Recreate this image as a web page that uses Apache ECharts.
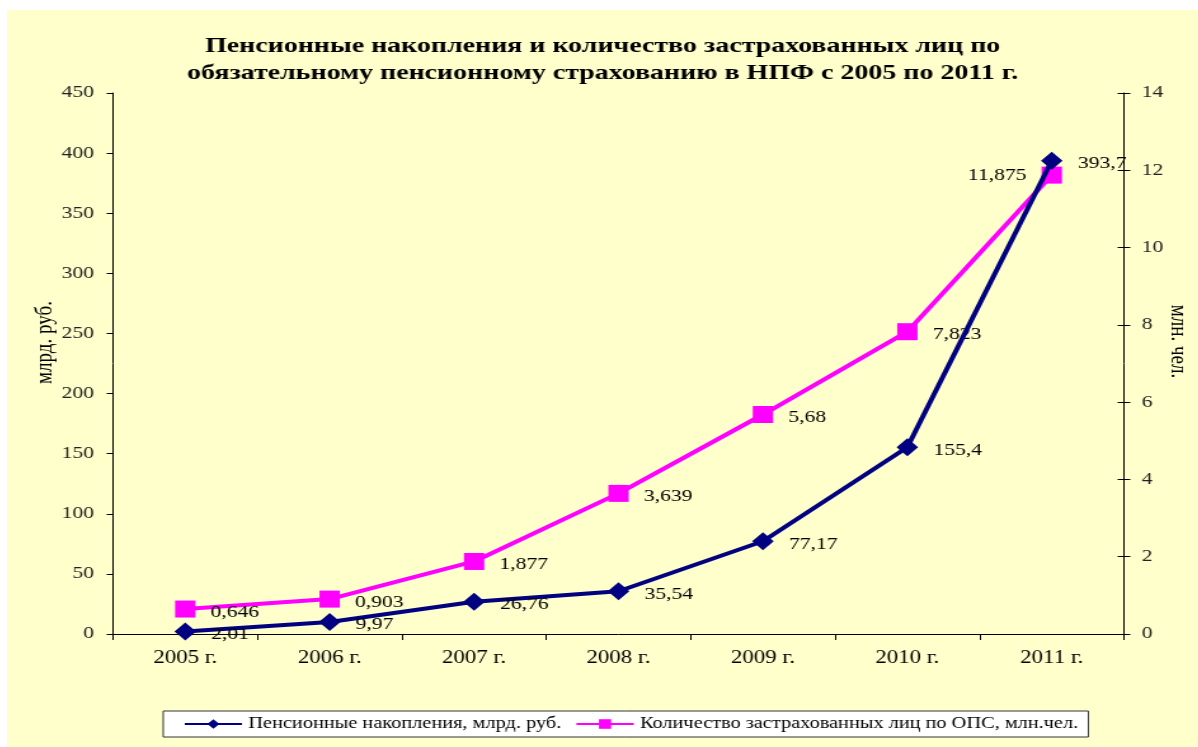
<!DOCTYPE html>
<html>
<head>
<meta charset="utf-8">
<script src="https://cdn.jsdelivr.net/npm/echarts@6/dist/echarts.min.js"></script>
<style>
  html, body { margin: 0; padding: 0; background: #fff; overflow: hidden; }
  #frame { position: absolute; left: 7px; top: 10px; width: 1191px; height: 737px; background: #FFFFCC; overflow: hidden; }
  /* the original picture is stretched sideways, so the chart is drawn narrower and widened */
  #chart { position: absolute; left: 0; top: 0; width: 938px; height: 737px; transform-origin: 0 0; transform: scaleX(1.27); }
</style>
</head>
<body>
<div id="frame"><div id="chart"></div></div>
<script>
const years = ['2005 г.', '2006 г.', '2007 г.', '2008 г.', '2009 г.', '2010 г.', '2011 г.']
const savings = [2.01, 9.97, 26.76, 35.54, 77.17, 155.4, 393.7]
const insured = [0.646, 0.903, 1.877, 3.639, 5.68, 7.823, 11.875]
const leftTicks = [0, 450, 50]
const rightTicks = [0, 14, 2]

const serif = '"Liberation Serif", "Times New Roman", serif'
const fmt = p => String(p.value).replace('.', ',')

const dataLabel = {
  show: true,
  position: 'right',
  distance: 12,
  offset: [0, 3],
  formatter: fmt,
  fontFamily: serif,
  fontSize: 17,
  color: '#000'
}

const chart = echarts.init(document.getElementById('chart'))
chart.setOption({
  backgroundColor: '#FFFFCC',
  animation: false,
  title: {
    text: 'Пенсионные накопления и количество застрахованных лиц по\nобязательному пенсионному страхованию в НПФ с 2005 по 2011 г.',
    left: 'center',
    top: 18,
    textStyle: {
      fontFamily: serif,
      fontSize: 22,
      fontWeight: 'bold',
      color: '#000',
      lineHeight: 27
    }
  },
  grid: {
    left: 83.5,
    right: 58.5,
    top: 83,
    bottom: 113,
    outerBoundsMode: 'none'
  },
  legend: {
    left: 123,
    top: 701,
    itemGap: 11,
    itemWidth: 45,
    itemHeight: 12,
    padding: [5, 8, 5, 16],
    backgroundColor: '#fff',
    borderColor: '#333',
    borderWidth: 1,
    textStyle: { fontFamily: serif, fontSize: 16, color: '#000' }
  },
  xAxis: {
    type: 'category',
    data: years,
    axisLine: { lineStyle: { color: '#000', width: 1 } },
    axisTick: { show: true, length: 6, lineStyle: { color: '#000' } },
    axisLabel: { fontFamily: serif, fontSize: 18, color: '#000', margin: 15 }
  },
  yAxis: [
    {
      type: 'value',
      min: leftTicks[0],
      max: leftTicks[1],
      interval: leftTicks[2],
      name: 'млрд. руб.',
      nameLocation: 'middle',
      nameRotate: 90,
      nameGap: 44,
      nameMoveOverlap: false,
      nameTextStyle: { fontFamily: serif, fontSize: 19, color: '#000', padding: [0, 0, 0, 42] },
      axisLine: { show: true, lineStyle: { color: '#000' } },
      axisTick: { show: true, length: 5, lineStyle: { color: '#000' } },
      splitLine: { show: false },
      axisLabel: { fontFamily: serif, fontSize: 17, color: '#222', margin: 15 }
    },
    {
      type: 'value',
      position: 'right',
      min: rightTicks[0],
      max: rightTicks[1],
      interval: rightTicks[2],
      name: 'млн. чел.',
      nameLocation: 'middle',
      nameRotate: -90,
      nameGap: 33,
      nameMoveOverlap: false,
      nameTextStyle: { fontFamily: serif, fontSize: 19, color: '#000', padding: [0, 44, 0, 0] },
      axisLine: { show: true, lineStyle: { color: '#000' } },
      axisTick: { show: true, length: 5, lineStyle: { color: '#000' } },
      splitLine: { show: false },
      axisLabel: { fontFamily: serif, fontSize: 17, color: '#222', margin: 14 }
    },
    {
      // inner half of the right-axis cross ticks
      type: 'value',
      position: 'right',
      min: rightTicks[0],
      max: rightTicks[1],
      interval: rightTicks[2],
      axisLine: { show: false },
      axisTick: { show: true, inside: true, length: 5, lineStyle: { color: '#000' } },
      splitLine: { show: false },
      axisLabel: { show: false }
    }
  ],
  series: [
    {
      name: 'Пенсионные накопления, млрд. руб.',
      type: 'line',
      yAxisIndex: 0,
      data: savings,
      symbol: 'diamond',
      symbolSize: [17, 18],
      z: 3,
      itemStyle: { color: '#000080' },
      lineStyle: { color: '#000080', width: 4 },
      label: dataLabel
    },
    {
      name: 'Количество застрахованных лиц по ОПС, млн.чел.',
      type: 'line',
      yAxisIndex: 1,
      data: insured.map((v, i) => i === insured.length - 1
        ? { value: v, label: { position: 'left', offset: [0, 0] } }
        : v),
      symbol: 'rect',
      symbolSize: [16, 17],
      z: 2,
      itemStyle: { color: '#FF00FF' },
      lineStyle: { color: '#FF00FF', width: 4 },
      label: dataLabel
    }
  ]
})
</script>
</body>
</html>
